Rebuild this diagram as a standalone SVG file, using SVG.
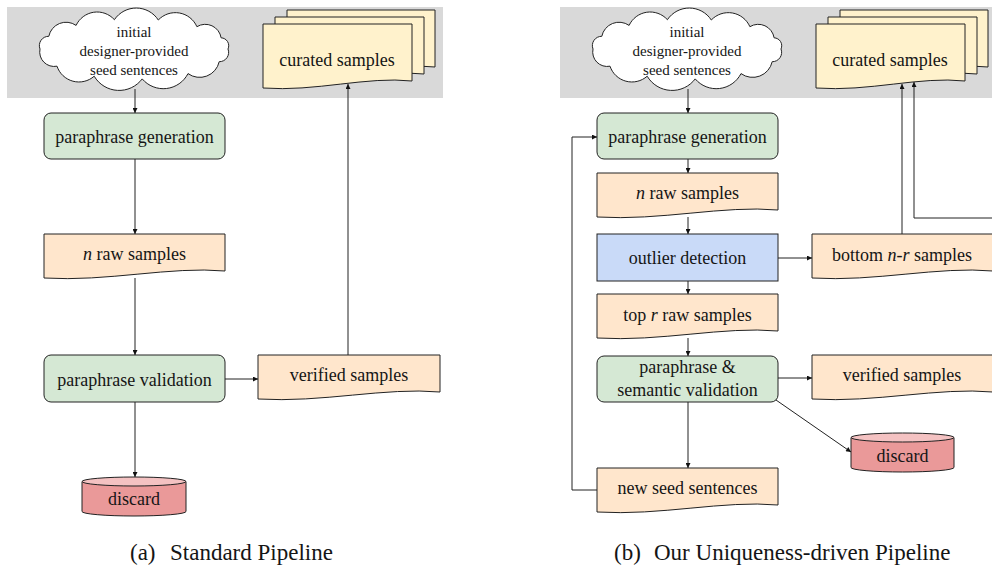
<svg xmlns="http://www.w3.org/2000/svg" width="992" height="566" viewBox="0 0 992 566" font-family="'Liberation Serif', 'DejaVu Serif', serif">
<defs>
<style>
text{font-family:'Liberation Serif','DejaVu Serif',serif}
.t{fill:#151515;text-anchor:middle}
.f18{font-size:18px}
.f15{font-size:15px}
.cap{fill:#151515;font-size:23px}
.band{fill:#d9d9d9}
.cloud{fill:#ffffff;stroke:#222;stroke-width:1}
.green{fill:#d5e8d4;stroke:#222;stroke-width:1}
.orange{fill:#ffe6cc;stroke:#222;stroke-width:1}
.yellow{fill:#fff2cc;stroke:#222;stroke-width:1}
.blue{fill:#c9daf8;stroke:#222;stroke-width:1}
.red{fill:#ea9999;stroke:#222;stroke-width:1}
.redtop{fill:#f4c2c2;stroke:#222;stroke-width:1}
.ca{fill:none;stroke:#222;stroke-width:1;marker-end:url(#ah)}
</style>
<marker id="ah" viewBox="0 0 10 10" refX="10" refY="5" markerWidth="7" markerHeight="5" markerUnits="userSpaceOnUse" orient="auto"><path d="M0,0 L10,5 L0,10 z" fill="#111"/></marker>
<path id="cloudshape" d="M40,49 A9.3,9.3 0 0 1 48.8,36.3 A17.6,17.6 0 0 1 76.1,25.4 A23.2,23.2 0 0 1 114.4,19.7 A26.3,26.3 0 0 1 158.3,20 A23.5,23.5 0 0 1 196.9,26.7 A16,16 0 0 1 221.1,37.8 A7.9,7.9 0 0 1 228,49 A9.3,9.3 0 0 1 219.2,61.7 A20,20 0 0 1 188,73.6 A27.7,27.7 0 0 1 142.2,78.9 A28.9,28.9 0 0 1 94.2,76.2 A23.1,23.1 0 0 1 57,66.2 A14.5,14.5 0 0 1 40,49 Z"/>
</defs>

<!-- background bands -->
<rect class="band" x="7" y="7" width="436" height="91"/>
<rect class="band" x="560" y="7" width="440" height="91"/>

<!-- ===== (a) Standard Pipeline ===== -->
<g id="a-seed">
<use href="#cloudshape" class="cloud"/>
<text class="t f15"><tspan x="134" y="37">initial</tspan><tspan x="134" y="56">designer-provided</tspan><tspan x="134" y="75">seed sentences</tspan></text>
</g>
<g id="a-curated">
<path class="yellow" d="M287,10 H435 V67 C390.6,62 338.8,78 287,74 Z"/>
<path class="yellow" d="M275,17 H424 V74 C379.3,69 327.2,85 275,81 Z"/>
<path class="yellow" d="M263,24 H412 V81 C367.3,76 315.2,92 263,88 Z"/>
<text class="t f18" x="337" y="66">curated samples</text>
</g>
<g id="a-gen">
<rect class="green" x="44" y="113" width="181" height="46" rx="7"/>
<text class="t f18" x="134.5" y="143">paraphrase generation</text>
</g>
<g id="a-raw">
<path class="orange" d="M44,234 H225 V271 C170.7,266 107.4,282 44,278 Z"/>
<text class="t f18" x="134.5" y="260"><tspan font-style="italic">n</tspan> raw samples</text>
</g>
<g id="a-val">
<rect class="green" x="44" y="355" width="181" height="47" rx="7"/>
<text class="t f18" x="134.5" y="386">paraphrase validation</text>
</g>
<g id="a-verified">
<path class="orange" d="M258,355 H440 V392 C385.4,387 321.7,403 258,399 Z"/>
<text class="t f18" x="349" y="381">verified samples</text>
</g>
<g id="a-discard">
<path class="red" d="M82,481.5 V511.5 A52,4.5 0 0 0 186,511.5 V481.5 Z"/>
<ellipse class="redtop" cx="134" cy="481.5" rx="52" ry="4.5"/>
<text class="t f18" x="134" y="505">discard</text>
</g>

<!-- ===== (b) Uniqueness-driven Pipeline ===== -->
<g id="b-seed" transform="translate(553,0)">
<use href="#cloudshape" class="cloud"/>
<text class="t f15"><tspan x="134" y="37">initial</tspan><tspan x="134" y="56">designer-provided</tspan><tspan x="134" y="75">seed sentences</tspan></text>
</g>
<g id="b-curated" transform="translate(553,0)">
<path class="yellow" d="M287,10 H435 V67 C390.6,62 338.8,78 287,74 Z"/>
<path class="yellow" d="M275,17 H424 V74 C379.3,69 327.2,85 275,81 Z"/>
<path class="yellow" d="M263,24 H412 V81 C367.3,76 315.2,92 263,88 Z"/>
<text class="t f18" x="337" y="66">curated samples</text>
</g>
<g id="b-gen">
<rect class="green" x="597" y="113" width="181" height="46" rx="7"/>
<text class="t f18" x="687.5" y="143">paraphrase generation</text>
</g>
<g id="b-raw">
<path class="orange" d="M597,173 H778 V210 C723.7,205 660.4,221 597,217 Z"/>
<text class="t f18" x="687.5" y="199"><tspan font-style="italic">n</tspan> raw samples</text>
</g>
<g id="b-outlier">
<rect class="blue" x="597" y="234" width="181" height="47"/>
<text class="t f18" x="687.5" y="264">outlier detection</text>
</g>
<g id="b-top">
<path class="orange" d="M597,294 H778 V331 C723.7,326 660.4,342 597,338 Z"/>
<text class="t f18" x="687.5" y="321">top <tspan font-style="italic">r</tspan> raw samples</text>
</g>
<g id="b-bottom">
<path class="orange" d="M812,234 H993 V271 C938.7,266 875.4,282 812,278 Z"/>
<text class="t f18" x="902" y="261">bottom <tspan font-style="italic">n</tspan>-<tspan font-style="italic">r</tspan> samples</text>
</g>
<g id="b-val">
<rect class="green" x="597" y="356" width="181" height="46" rx="7"/>
<text class="t f18"><tspan x="687.5" y="373">paraphrase &amp;</tspan><tspan x="687.5" y="396">semantic validation</tspan></text>
</g>
<g id="b-verified">
<path class="orange" d="M812,355 H993 V392 C938.7,387 875.4,403 812,399 Z"/>
<text class="t f18" x="902" y="381">verified samples</text>
</g>
<g id="b-discard">
<path class="red" d="M851,437.5 V467.5 A51.5,4.5 0 0 0 954,467.5 V437.5 Z"/>
<ellipse class="redtop" cx="902.5" cy="437.5" rx="51.5" ry="4.5"/>
<text class="t f18" x="902.5" y="462">discard</text>
</g>
<g id="b-newseed">
<path class="orange" d="M597,468 H778 V505 C723.7,500 660.4,516 597,512 Z"/>
<text class="t f18" x="687.5" y="494">new seed sentences</text>
</g>

<!-- ===== connectors ===== -->
<g id="connectors">
<path class="ca" d="M135,89 V113"/>
<path class="ca" d="M135,159 V234"/>
<path class="ca" d="M135,278 V355"/>
<path class="ca" d="M225,379 H258"/>
<path class="ca" d="M135,402 V477"/>
<path class="ca" d="M348,355 V84"/>

<path class="ca" d="M688,89 V113"/>
<path class="ca" d="M688,159 V173"/>
<path class="ca" d="M688,217 V234"/>
<path class="ca" d="M688,281 V294"/>
<path class="ca" d="M688,338 V356"/>
<path class="ca" d="M688,402 V468"/>
<path class="ca" d="M778,258 H812"/>
<path class="ca" d="M778,378 H812"/>
<path class="ca" d="M776,400 L851,452"/>
<path class="ca" d="M597,490 H572 V137 H597"/>
<path class="ca" d="M902,234 V84"/>
<path class="ca" d="M1000,218 H914 V82"/>
</g>

<!-- captions -->
<text class="cap" y="560"><tspan x="130">(a)</tspan><tspan x="170">Standard Pipeline</tspan></text>
<text class="cap" y="560"><tspan x="614">(b)</tspan><tspan x="654">Our Uniqueness-driven Pipeline</tspan></text>
</svg>
